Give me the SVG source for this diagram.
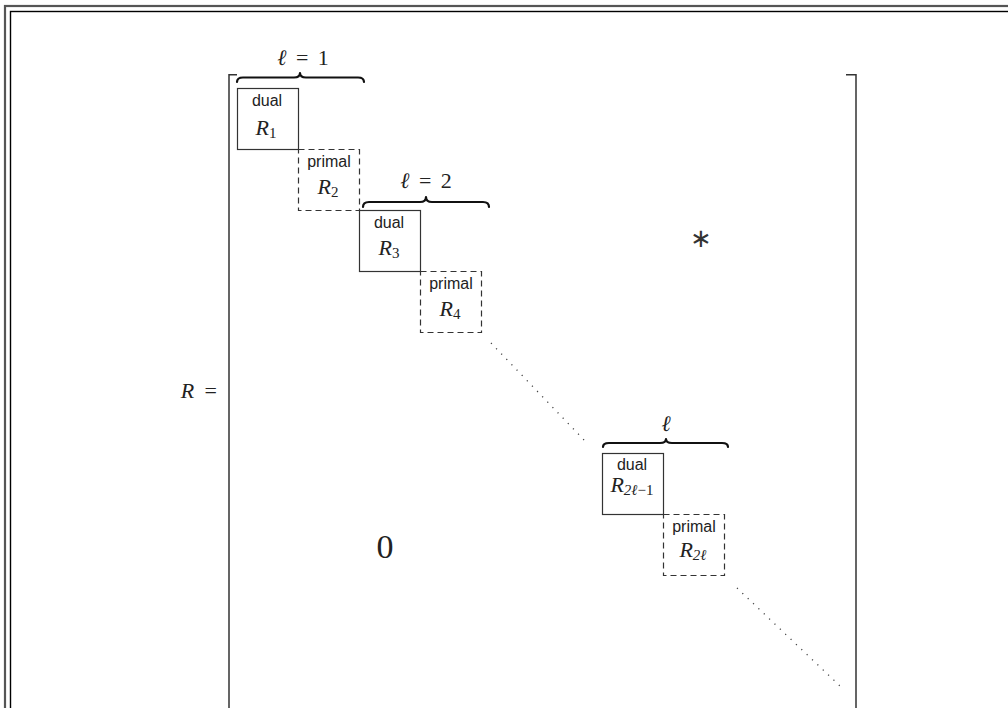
<svg xmlns="http://www.w3.org/2000/svg" width="1008" height="708" viewBox="0 0 1008 708">
<style>
.frame-o{fill:none;stroke:#555;stroke-width:2.2}
.frame-i{fill:none;stroke:#000;stroke-width:1.4}
.bracket{fill:none;stroke:#333;stroke-width:1.5}
.box{fill:none;stroke:#333;stroke-width:1.2}
.dashed{stroke-dasharray:6 4}
.brace{fill:none;stroke:#111;stroke-width:2.2;stroke-linecap:round;stroke-linejoin:round}
.dots{fill:none;stroke:#444;stroke-width:1.3;stroke-dasharray:1.2 6.2}
.lbl{font-family:"Liberation Sans",Arial,sans-serif;font-size:16px;fill:#222;text-anchor:middle}
.math{font-family:"Liberation Serif","DejaVu Serif",serif;font-size:22px;fill:#222;text-anchor:middle}
.it{font-style:italic}
.sub{font-size:15px}
.star{font-family:"DejaVu Sans",sans-serif;font-size:26px;fill:#333;text-anchor:middle}
</style>
<rect x="0" y="0" width="1008" height="708" fill="#fff"/>
<rect class="frame-o" x="5" y="6" width="1100" height="800"/>
<rect class="frame-i" x="10.5" y="11.5" width="1100" height="800"/>

<g id="matrix-brackets">
<path class="bracket" d="M237 74.7 H229 V712"/>
<path class="bracket" d="M846 74.7 H856 V712"/>
</g>
<text class="math" x="217" y="397.5" style="text-anchor:end" word-spacing="5"><tspan class="it">R</tspan> =</text>

<g id="node-R1">
<rect class="box" x="237.5" y="88.5" width="61" height="61"/>
<text class="lbl" x="267" y="105.5">dual</text>
<text class="math" x="266" y="135"><tspan class="it">R</tspan><tspan class="sub" dy="3">1</tspan></text>
</g>
<g id="node-R2">
<rect class="box dashed" x="298.5" y="149.5" width="61" height="61"/>
<text class="lbl" x="329" y="166.5">primal</text>
<text class="math" x="328" y="194"><tspan class="it">R</tspan><tspan class="sub" dy="3">2</tspan></text>
</g>
<g id="node-R3">
<rect class="box" x="359.5" y="210.5" width="61" height="61"/>
<text class="lbl" x="389" y="227.5">dual</text>
<text class="math" x="389" y="255"><tspan class="it">R</tspan><tspan class="sub" dy="3">3</tspan></text>
</g>
<g id="node-R4">
<rect class="box dashed" x="420.5" y="271.5" width="61" height="61"/>
<text class="lbl" x="451" y="288.5">primal</text>
<text class="math" x="450" y="316"><tspan class="it">R</tspan><tspan class="sub" dy="3">4</tspan></text>
</g>
<g id="node-R2l-1">
<rect class="box" x="602.5" y="453.5" width="61" height="61"/>
<text class="lbl" x="632" y="470">dual</text>
<text class="math" x="632" y="492"><tspan class="it">R</tspan><tspan class="sub" dy="3"><tspan class="it">2ℓ</tspan>−1</tspan></text>
</g>
<g id="node-R2l">
<rect class="box dashed" x="663.5" y="514.5" width="61" height="61"/>
<text class="lbl" x="694" y="531.5">primal</text>
<text class="math" x="693" y="557"><tspan class="it">R</tspan><tspan class="sub it" dy="3">2ℓ</tspan></text>
</g>

<g id="braces">
<path class="brace" d="M237 82 Q237 77.5 243 77.5 L294 77.5 Q300 77.5 300 73 Q300 77.5 306 77.5 L358 77.5 Q364 77.5 364 82"/>
<path class="brace" d="M363 207 Q363 202 369 202 L420 202 Q426 202 426 197 Q426 202 432 202 L483 202 Q489 202 489 207"/>
<path class="brace" d="M603 447 Q603 443 609 443 L660 443 Q666 443 666 439 Q666 443 672 443 L722 443 Q728 443 728 447"/>
</g>
<g id="brace-labels">
<text class="math" x="303" y="64.5" word-spacing="4"><tspan class="it">ℓ</tspan> = 1</text>
<text class="math" x="426" y="188" word-spacing="4"><tspan class="it">ℓ</tspan> = 2</text>
<text class="math it" x="666" y="431">ℓ</text>
</g>

<g id="connectors">
<line class="dots" x1="491" y1="343" x2="585" y2="441"/>
<line class="dots" x1="737" y1="588" x2="840" y2="686"/>
</g>

<g id="symbols">
<text class="star" x="701" y="247">∗</text>
<text class="math" x="385" y="558" style="font-size:34px">0</text>
</g>
</svg>
